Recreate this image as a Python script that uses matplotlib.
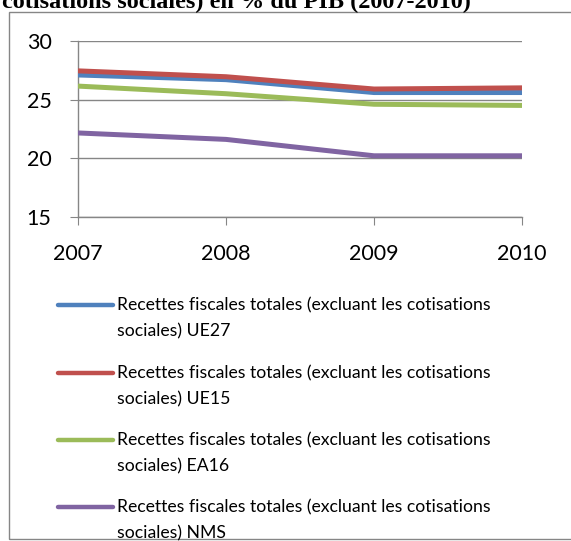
import matplotlib
matplotlib.use("Agg")
import matplotlib.pyplot as plt
from matplotlib.lines import Line2D
from matplotlib.patches import Rectangle

# Data
years = ["2007", "2008", "2009", "2010"]
ue27 = [27.1, 26.7, 25.6, 25.6]
ue15 = [27.45, 26.95, 25.9, 26.0]
ea16 = [26.15, 25.5, 24.6, 24.5]
nms = [22.15, 21.6, 20.2, 20.2]

labels = [
    "Recettes fiscales totales (excluant les cotisations\nsociales) UE27",
    "Recettes fiscales totales (excluant les cotisations\nsociales) UE15",
    "Recettes fiscales totales (excluant les cotisations\nsociales) EA16",
    "Recettes fiscales totales (excluant les cotisations\nsociales) NMS",
]
colors = ["#4F81BD", "#C0504D", "#9BBB59", "#8064A2"]
series = [ue27, ue15, ea16, nms]

W, H = 571, 541
grey = "#868686"
plt.rcParams["font.family"] = ["Lato", "DejaVu Sans"]

fig = plt.figure(figsize=(W / 100, H / 100), dpi=100)

# outer chart border (right side runs past the image edge)
fig.add_artist(Rectangle((8.5 / W, 1 - 539 / H), 0.99, (539 - 11.7) / H,
                         transform=fig.transFigure, fill=False,
                         edgecolor=grey, lw=1.0))

# title, top part cropped by the image edge
fig.text(2 / W, 1 - 8.5 / H, "cotisations sociales) en % du PIB (2007-2010)",
         family="Liberation Serif", weight="bold", fontsize=17.5,
         ha="left", va="baseline")

ax = fig.add_axes([78 / W, 1 - 216.7 / H, (522 - 78) / W, (216.7 - 41) / H])
x = list(range(len(years)))
for vals, c in zip(series, colors):
    ax.plot(x, vals, color=c, lw=3.6, solid_capstyle="round",
            solid_joinstyle="round", zorder=3)

ax.set_xlim(0, 3)
ax.set_ylim(15, 30)
ax.set_yticks([15, 20, 25, 30])
ax.set_xticks(x)
ax.set_xticklabels(years)
ax.yaxis.grid(True, color=grey, lw=1.0)
ax.set_axisbelow(True)
for s in ["top", "right"]:
    ax.spines[s].set_visible(False)
for s in ["left", "bottom"]:
    ax.spines[s].set_color(grey)
    ax.spines[s].set_linewidth(1.0)
ax.tick_params(axis="both", direction="out", length=6, width=0.8,
               color=grey, labelsize=15.5)
ax.tick_params(axis="y", pad=13)
ax.tick_params(axis="x", pad=14)

# legend laid out like the Excel one: handle beside the first line of text
handle_y = [305, 373, 440, 507]
for lab, c, hy in zip(labels, colors, handle_y):
    fig.add_artist(Line2D([58 / W, 113 / W], [1 - hy / H, 1 - hy / H],
                          transform=fig.transFigure, color=c, lw=3.2,
                          solid_capstyle="round"))
    fig.text(117 / W, 1 - (hy - 8) / H, lab, fontsize=12.7, ha="left",
             va="top", linespacing=1.78)

fig.savefig("out.png", dpi=100)
